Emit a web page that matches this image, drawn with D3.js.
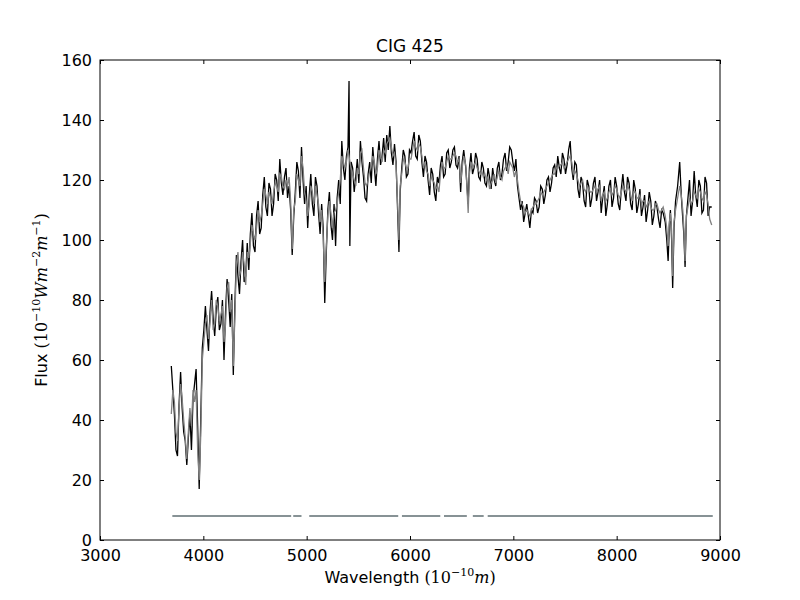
<!DOCTYPE html>
<html>

<head>
  <title>CIG 425</title>
  <meta charset="UTF-8">
  <script src="https://d3js.org/d3.v7.min.js"></script>
  <style type="text/css">
    body { margin: 0; background: #fff; }
    text { font-family: "DejaVu Sans", sans-serif; }
    .math { font-family: "DejaVu Serif", "Liberation Serif", serif; }
  </style>
</head>

<body>
  <script type="text/javascript">
    // wavelengths (1e-10 m) shared by both spectra
    var wave = [
      3690, 3705, 3720, 3735, 3750, 3765, 3780, 3795, 3810, 3825,
      3840, 3855, 3870, 3885, 3900, 3915, 3930, 3945, 3960, 3975,
      3990, 4005, 4020, 4035, 4050, 4065, 4080, 4095, 4110, 4125,
      4140, 4155, 4170, 4185, 4200, 4215, 4230, 4245, 4260, 4275,
      4290, 4305, 4320, 4335, 4350, 4365, 4380, 4395, 4410, 4425,
      4440, 4455, 4470, 4485, 4500, 4515, 4530, 4545, 4560, 4575,
      4590, 4605, 4620, 4635, 4650, 4665, 4680, 4695, 4710, 4725,
      4740, 4755, 4770, 4785, 4800, 4815, 4830, 4845, 4860, 4875,
      4890, 4905, 4920, 4935, 4950, 4965, 4980, 4995, 5010, 5025,
      5040, 5055, 5070, 5085, 5100, 5115, 5130, 5145, 5160, 5175,
      5190, 5205, 5220, 5235, 5250, 5265, 5280, 5295, 5310, 5325,
      5340, 5355, 5370, 5385, 5400, 5410, 5418, 5430, 5445, 5460,
      5475, 5490, 5505, 5520, 5535, 5550, 5565, 5580, 5595, 5610,
      5625, 5640, 5655, 5670, 5685, 5700, 5715, 5730, 5745, 5760,
      5775, 5790, 5805, 5820, 5835, 5850, 5865, 5880, 5893, 5905,
      5920, 5935, 5950, 5965, 5980, 5995, 6010, 6025, 6040, 6055,
      6070, 6085, 6100, 6115, 6130, 6145, 6160, 6175, 6190, 6205,
      6220, 6235, 6250, 6265, 6280, 6295, 6310, 6325, 6340, 6355,
      6370, 6385, 6400, 6415, 6430, 6445, 6460, 6475, 6490, 6505,
      6520, 6540, 6563, 6575, 6590, 6605, 6620, 6635, 6650, 6665,
      6680, 6695, 6710, 6725, 6740, 6755, 6770, 6785, 6800, 6815,
      6830, 6845, 6860, 6875, 6890, 6905, 6920, 6935, 6950, 6965,
      6980, 6995, 7010, 7025, 7040, 7055, 7070, 7085, 7100, 7115,
      7130, 7145, 7160, 7175, 7190, 7205, 7220, 7235, 7250, 7265,
      7280, 7295, 7310, 7325, 7340, 7355, 7370, 7385, 7400, 7415,
      7430, 7445, 7460, 7475, 7490, 7505, 7520, 7535, 7550, 7565,
      7580, 7595, 7610, 7625, 7640, 7655, 7670, 7685, 7700, 7715,
      7730, 7745, 7760, 7775, 7790, 7805, 7820, 7835, 7850, 7865,
      7880, 7895, 7910, 7925, 7940, 7955, 7970, 7985, 8000, 8015,
      8030, 8045, 8060, 8075, 8090, 8105, 8120, 8135, 8150, 8165,
      8180, 8195, 8210, 8225, 8240, 8255, 8270, 8285, 8300, 8315,
      8330, 8345, 8360, 8375, 8390, 8405, 8420, 8435, 8450, 8470,
      8485, 8498, 8510, 8520, 8532, 8542, 8555, 8570, 8590, 8610,
      8625, 8640, 8650, 8662, 8675, 8690, 8705, 8720, 8735, 8750,
      8765, 8780, 8795, 8810, 8825, 8840, 8855, 8870, 8885, 8900,
      8920];

    // observed flux (black)
    var observed = [
      58, 50, 42, 30, 28, 45, 56, 44, 36, 33,
      25, 34, 42, 30, 47, 52, 57, 38, 17, 40,
      64, 70, 78, 70, 63, 76, 83, 74, 68, 77,
      81, 70, 72, 80, 60, 76, 87, 80, 71, 82,
      55, 78, 95, 88, 82, 93, 100, 86, 88, 99,
      90, 102, 109, 98, 96, 108, 113, 102, 104, 115,
      121, 111, 108, 119, 117, 108, 112, 122, 120, 113,
      127, 119, 115, 121, 124, 114, 118, 110, 95, 108,
      116, 126, 123, 114, 131, 120, 112, 118, 104, 115,
      122, 112, 108, 121, 118, 109, 102, 112, 104, 79,
      96, 110, 116, 105, 100, 112, 98, 114, 120, 112,
      133, 124, 120, 128, 131, 153, 98, 126, 124, 116,
      121, 127, 119, 133, 126, 121, 114, 113, 122, 126,
      119, 131, 124, 118, 127, 133, 125, 128, 134, 126,
      135, 130, 138, 129, 125, 132, 126, 110, 96, 116,
      124, 130, 128, 121, 122, 130, 129, 133, 136, 128,
      127, 135, 133, 126, 121, 128, 126, 120, 115, 124,
      122, 116, 113, 121, 119, 125, 128, 121, 122, 129,
      130, 124, 126, 130, 131, 125, 124, 128, 116, 126,
      130, 124, 112, 124, 129, 122, 124, 129, 127, 121,
      120, 126, 124, 119, 118, 124, 121, 117, 124, 120,
      118, 124, 126, 120, 122, 127, 129, 123, 126, 131,
      130, 126, 123, 127, 118, 114, 110, 113, 106, 109,
      112, 108, 104, 110, 109, 114, 113, 109, 111, 118,
      117, 112, 115, 120, 121, 116, 119, 124, 125, 121,
      128, 124, 122, 129, 127, 122, 125, 130, 133, 124,
      120, 126, 125, 117, 114, 121, 119, 113, 111, 120,
      118, 111, 114, 119, 121, 113, 116, 120, 109, 114,
      118, 108, 112, 118, 120, 111, 114, 121, 118, 112,
      110, 117, 122, 116, 113, 121, 119, 112, 110, 120,
      117, 109, 112, 117, 108, 111, 115, 106, 110, 116,
      113, 105, 108, 113, 111, 107, 104, 110, 109, 106,
      100, 93, 105, 110, 100, 84, 104, 113, 118, 126,
      115, 107, 102, 91, 108, 114, 120, 108, 113, 123,
      115, 111, 120, 118, 109, 110, 121, 119, 108, 111,
      111];

    // model flux (grey)
    var model = [
      42, 50, 46, 36, 33, 44, 52, 47, 40, 34,
      27, 36, 44, 38, 50, 46, 50, 30, 20, 35,
      60, 66, 72, 75, 67, 73, 80, 70, 72, 80,
      78, 73, 75, 78, 66, 72, 84, 86, 76, 80,
      58, 74, 92, 96, 88, 90, 96, 92, 85, 96,
      94, 99, 105, 102, 100, 104, 110, 106, 108, 112,
      117, 115, 112, 116, 114, 112, 116, 119, 118, 116,
      122, 121, 118, 117, 120, 118, 121, 113, 97, 110,
      113, 122, 120, 118, 128, 124, 116, 113, 108, 112,
      118, 116, 112, 118, 115, 112, 106, 110, 101, 86,
      98, 108, 113, 109, 104, 109, 110, 112, 116, 120,
      128, 126, 124, 126, 130, 128, 126, 124, 122, 120,
      118, 124, 122, 129, 130, 124, 119, 118, 120, 123,
      125, 128, 126, 122, 124, 130, 128, 126, 130, 129,
      132, 133, 134, 131, 128, 129, 125, 112, 100, 118,
      122, 127, 126, 124, 124, 127, 127, 130, 133, 131,
      130, 132, 131, 128, 124, 126, 123, 122, 118, 121,
      120, 119, 117, 118, 116, 122, 126, 124, 124, 126,
      128, 127, 127, 128, 129, 128, 126, 127, 119, 124,
      128, 125, 109, 122, 126, 124, 125, 126, 124, 123,
      122, 123, 121, 122, 120, 121, 117, 119, 120, 122,
      119, 121, 123, 121, 120, 123, 124, 125, 122, 126,
      125, 124, 121, 123, 120, 116, 113, 112, 111, 109,
      110, 109, 108, 110, 111, 112, 112, 113, 114, 116,
      115, 116, 117, 118, 119, 120, 121, 122, 122, 124,
      124, 125, 125, 126, 124, 125, 126, 127, 128, 126,
      122, 123, 122, 120, 118, 119, 120, 117, 116, 118,
      117, 116, 116, 117, 118, 116, 117, 118, 113, 115,
      116, 113, 114, 116, 117, 115, 116, 118, 117, 115,
      114, 116, 118, 117, 116, 118, 117, 115, 113, 116,
      116, 114, 114, 115, 112, 113, 113, 111, 112, 113,
      111, 110, 110, 112, 112, 110, 109, 110, 111, 108,
      104, 98, 106, 109, 103, 88, 106, 110, 114, 118,
      115, 110, 104, 93, 108, 111, 114, 112, 113, 116,
      115, 114, 117, 116, 114, 113, 116, 115, 112, 107,
      105];

    // good-pixel mask segments (start, end wavelength) drawn at flux 8
    var maskStart = [3700, 4870, 5025, 5922, 6329, 6608, 6752];
    var maskEnd = [4850, 4950, 5886, 6293, 6550, 6713, 8930];
    var maskLevel = 8;

    var xTicks = [3000, 4000, 5000, 6000, 7000, 8000, 9000];
    var yTicks = [0, 20, 40, 60, 80, 100, 120, 140, 160];

    var margin = { top: 60, right: 80, bottom: 60, left: 100 },
      width = 800 - margin.left - margin.right,
      height = 600 - margin.top - margin.bottom;

    var x = d3.scaleLinear().domain([3000, 9000]).range([0, width]);
    var y = d3.scaleLinear().domain([0, 160]).range([height, 0]);

    var svg = d3.select('body').append('svg')
      .attr('width', 800)
      .attr('height', 600)
      .append('g')
      .attr('transform', 'translate(' + margin.left + ',' + margin.top + ')');

    svg.append('defs').append('clipPath').attr('id', 'clip')
      .append('rect').attr('width', width).attr('height', height);

    var plot = svg.append('g').attr('clip-path', 'url(#clip)');

    var spectrumLine = d3.line()
      .x(function (d, i) { return x(wave[i]); })
      .y(function (d) { return y(d); });

    plot.append('path')
      .datum(observed)
      .attr('d', spectrumLine)
      .style('stroke', '#000')
      .style('stroke-width', 1.3)
      .style('fill', 'none');

    plot.append('path')
      .datum(model)
      .attr('d', spectrumLine)
      .style('stroke', '#808080')
      .style('stroke-width', 1.3)
      .style('fill', 'none');

    // mask segments
    plot.selectAll('.mask')
      .data(maskStart)
      .enter().append('line')
      .attr('class', 'mask')
      .attr('x1', function (d) { return x(d); })
      .attr('x2', function (d, i) { return x(maskEnd[i]); })
      .attr('y1', y(maskLevel))
      .attr('y2', y(maskLevel))
      .style('stroke', '#5f6e72')
      .style('stroke-width', 1.5);

    // axes, matplotlib classic style: ticks inside on all four sides
    function styleAxis(g) {
      g.select('.domain').remove();
      g.selectAll('text').style('font-size', '16px').style('font-family', '"DejaVu Sans", sans-serif');
      g.selectAll('line').style('stroke', '#000');
    }

    svg.append('g')
      .attr('transform', 'translate(0,' + height + ')')
      .call(d3.axisBottom(x).tickValues(xTicks).tickFormat(d3.format('d')).tickSizeInner(-4).tickPadding(10))
      .call(styleAxis);

    svg.append('g')
      .call(d3.axisTop(x).tickValues(xTicks).tickFormat('').tickSizeInner(-4))
      .call(styleAxis);

    svg.append('g')
      .call(d3.axisLeft(y).tickValues(yTicks).tickFormat(d3.format('d')).tickSizeInner(-4).tickPadding(8))
      .call(styleAxis);

    svg.append('g')
      .attr('transform', 'translate(' + width + ',0)')
      .call(d3.axisRight(y).tickValues(yTicks).tickFormat('').tickSizeInner(-4))
      .call(styleAxis);

    svg.append('rect')
      .attr('width', width)
      .attr('height', height)
      .style('fill', 'none')
      .style('stroke', '#000')
      .style('stroke-width', 1);

    // title
    svg.append('text')
      .attr('x', width / 2)
      .attr('y', -8)
      .style('text-anchor', 'middle')
      .style('font-size', '17px')
      .text('CIG 425');

    // x label
    var xl = svg.append('text')
      .attr('x', width / 2)
      .attr('y', height + 43)
      .style('text-anchor', 'middle')
      .style('font-size', '16px');
    xl.append('tspan').text('Wavelength ');
    xl.append('tspan').attr('class', 'math').text('(10');
    xl.append('tspan').attr('class', 'math').attr('dy', -7).style('font-size', '11px').text('\u221210');
    xl.append('tspan').attr('class', 'math').attr('dy', 7).style('font-style', 'italic').text('m');
    xl.append('tspan').attr('class', 'math').text(')');

    // y label
    var yl = svg.append('text')
      .attr('transform', 'translate(' + (-53) + ',' + (height / 2) + ') rotate(-90)')
      .style('text-anchor', 'middle')
      .style('font-size', '16px');
    yl.append('tspan').text('Flux ');
    yl.append('tspan').attr('class', 'math').text('(10');
    yl.append('tspan').attr('class', 'math').attr('dy', -7).style('font-size', '11px').text('\u221210');
    yl.append('tspan').attr('class', 'math').attr('dy', 7).style('font-style', 'italic').text('Wm');
    yl.append('tspan').attr('class', 'math').attr('dy', -7).style('font-size', '11px').text('\u22122');
    yl.append('tspan').attr('class', 'math').attr('dy', 7).style('font-style', 'italic').text('m');
    yl.append('tspan').attr('class', 'math').attr('dy', -7).style('font-size', '11px').text('\u22121');
    yl.append('tspan').attr('class', 'math').attr('dy', 7).text(')');
  </script>
</body>

</html>
